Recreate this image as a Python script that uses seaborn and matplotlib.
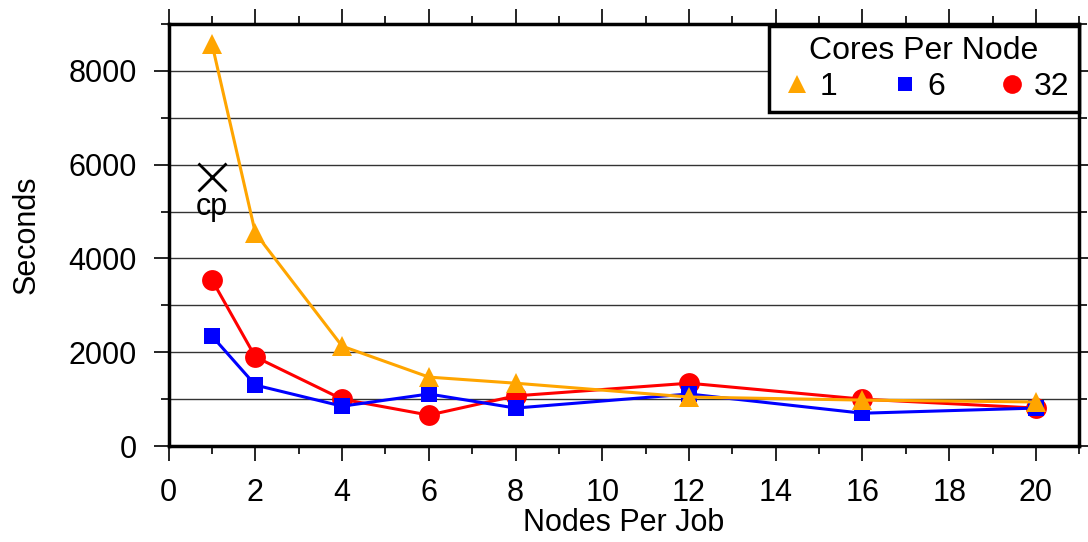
import numpy as np
import pandas as pd
import matplotlib
matplotlib.use("Agg")
import matplotlib.pyplot as plt
import seaborn as sns
from matplotlib.ticker import MultipleLocator

# ----------------------------------------------------------
# Data
# ----------------------------------------------------------
nodes = [1, 2, 4, 6, 8, 12, 16, 20]
cores_1 = [8570, 4540, 2130, 1470, 1340, 1045, 980, 940]
cores_6 = [2345, 1300, 850, 1110, 810, 1110, 700, 810]
cores_32 = [3540, 1900, 1000, 660, 1070, 1340, 1000, 810]
cp_x, cp_y = 1, 5740

series = {"1": cores_1, "6": cores_6, "32": cores_32}
df = pd.DataFrame([(n, k, v) for k, vals in series.items() for n, v in zip(nodes, vals)],
                  columns=["Nodes", "Cores", "Seconds"])

sns.set_theme(style="white")
plt.rcParams["font.family"] = ["Liberation Sans", "DejaVu Sans"]
for key in ["text.color", "axes.labelcolor", "xtick.color", "ytick.color"]:
    plt.rcParams[key] = "black"

colors = {"1": "#FFA500", "6": "#0000FF", "32": "#FF0000"}
markers = {"1": "^", "6": "s", "32": "o"}
msize = {"1": 15, "6": 11.5, "32": 15}

fig = plt.figure(figsize=(10.88, 5.42), dpi=100)
ax = fig.add_axes([0.155, 0.177, 0.837, 0.779])

# grid lines behind
for yv in range(1000, 9000, 1000):
    ax.axhline(yv, color="#333333", lw=1.0, zorder=0)

handles = {}
for key in ["32", "6", "1"]:
    sub = df[df["Cores"] == key]
    sns.lineplot(data=sub, x="Nodes", y="Seconds", ax=ax, color=colors[key],
                 marker=markers[key], markersize=msize[key], markeredgewidth=0,
                 linewidth=2.2, legend=False)
    handles[key] = plt.Line2D([], [], color=colors[key], marker=markers[key],
                              linestyle="none", markersize=msize[key] * 0.9,
                              markeredgewidth=0)

ax.plot([cp_x], [cp_y], marker="x", color="black", markersize=20, mew=2, linestyle="none")
ax.text(cp_x, cp_y - 330, "cp", ha="center", va="top", fontsize=22)

ax.set_xlim(0, 21)
ax.set_ylim(0, 9000)
ax.xaxis.set_major_locator(MultipleLocator(2))
ax.xaxis.set_minor_locator(MultipleLocator(1))
ax.yaxis.set_major_locator(MultipleLocator(2000))
ax.yaxis.set_minor_locator(MultipleLocator(1000))
ax.tick_params(which="both", direction="out", top=True, right=True,
               bottom=True, left=True, labelsize=22, width=1.2, color="black")
ax.tick_params(which="major", length=11, pad=12)
ax.tick_params(which="minor", length=5.5)
for s in ax.spines.values():
    s.set_linewidth(2.5)
    s.set_color("black")

ax.set_xlabel("Nodes Per Job", fontsize=22, labelpad=0)
ax.set_ylabel("Seconds", fontsize=22, labelpad=19)

leg = ax.legend([handles["1"], handles["6"], handles["32"]], ["1", "6", "32"],
                title="Cores Per Node", ncol=3, loc="upper right",
                bbox_to_anchor=(1.0, 0.995),
                fontsize=23, title_fontsize=23, frameon=True, fancybox=False,
                borderaxespad=0, handletextpad=0.1, columnspacing=1.5,
                handlelength=1.2, borderpad=0.3, labelspacing=0.2)
leg.get_frame().set_edgecolor("black")
leg.get_frame().set_linewidth(2.5)
leg.get_frame().set_alpha(1)

fig.savefig("out.png", dpi=100)
